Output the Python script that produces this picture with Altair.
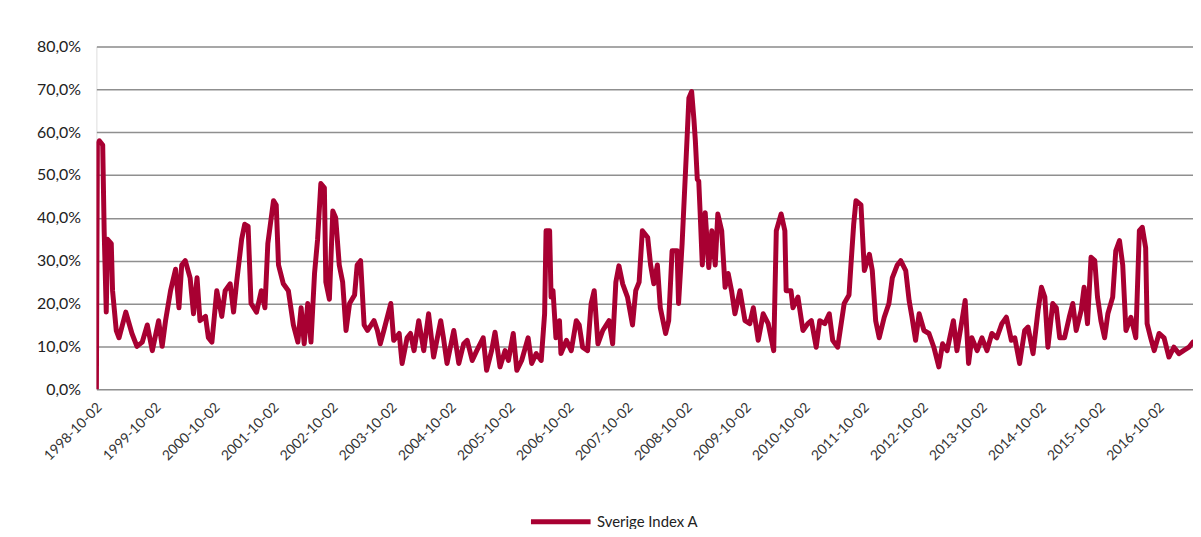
import altair as alt
import pandas as pd

series_name = "Sverige Index A"

dates = [
    "1998-10-02", "1998-10-08", "1998-10-20", "1998-11-10", "1998-11-19", "1998-12-02", "1998-12-10",
    "1999-01-02", "1999-01-10", "1999-02-02", "1999-02-19", "1999-04-02", "1999-05-10", "1999-06-10",
    "1999-07-13", "1999-08-13", "1999-09-13", "1999-10-22", "1999-11-13", "1999-12-04",
    "2000-01-04", "2000-02-04", "2000-02-25", "2000-03-13", "2000-04-04", "2000-05-04", "2000-05-25",
    "2000-06-16", "2000-07-04", "2000-08-07", "2000-08-25", "2000-09-16", "2000-10-16", "2000-11-16",
    "2000-12-07", "2001-01-07", "2001-01-28", "2001-02-16", "2001-03-19", "2001-04-07", "2001-04-28",
    "2001-05-07", "2001-05-16", "2001-06-19", "2001-07-19", "2001-08-10", "2001-08-28", "2001-10-02",
    "2001-10-19", "2001-11-02", "2001-12-02", "2002-01-02", "2002-02-02", "2002-03-02", "2002-03-22",
    "2002-04-10", "2002-05-02", "2002-05-22", "2002-06-13", "2002-07-02", "2002-07-22", "2002-08-13",
    "2002-08-22", "2002-09-13", "2002-10-04", "2002-10-22", "2002-11-13", "2002-12-04", "2002-12-25",
    "2003-01-16", "2003-02-16", "2003-03-04", "2003-03-25", "2003-04-16", "2003-05-07", "2003-06-16",
    "2003-07-07", "2003-07-25", "2003-08-16", "2003-09-28", "2003-10-16", "2003-11-19", "2003-12-07",
    "2004-01-07", "2004-01-28", "2004-02-19", "2004-03-19", "2004-04-19", "2004-05-19", "2004-06-19",
    "2004-08-02", "2004-08-19", "2004-09-10", "2004-10-22", "2004-11-22", "2004-12-22",
    "2005-01-13", "2005-02-13", "2005-03-13", "2005-04-22", "2005-05-13", "2005-06-13", "2005-07-04",
    "2005-08-04", "2005-09-04", "2005-09-25", "2005-10-25", "2005-11-16", "2005-12-16",
    "2006-01-25", "2006-02-16", "2006-03-16", "2006-04-16", "2006-05-07", "2006-05-16", "2006-06-07",
    "2006-06-16", "2006-06-28", "2006-07-16", "2006-08-07", "2006-08-16", "2006-09-19", "2006-10-19",
    "2006-11-19", "2006-12-07", "2006-12-28", "2007-01-28", "2007-02-19", "2007-03-10", "2007-04-02",
    "2007-05-02", "2007-06-10", "2007-07-02", "2007-07-22", "2007-08-10", "2007-09-02", "2007-10-02",
    "2007-11-02", "2007-11-22", "2007-12-13", "2008-01-02", "2008-02-04", "2008-02-22", "2008-03-13",
    "2008-04-04", "2008-04-22", "2008-05-25", "2008-06-13", "2008-07-04", "2008-08-04", "2008-08-13",
    "2008-09-04", "2008-10-04", "2008-10-16", "2008-11-02", "2008-11-16", "2008-11-25", "2008-12-07",
    "2008-12-16", "2008-12-25", "2009-01-07", "2009-01-25", "2009-02-16", "2009-03-07", "2009-03-28",
    "2009-04-13", "2009-05-07", "2009-05-28", "2009-06-16", "2009-07-07", "2009-07-28", "2009-08-28",
    "2009-09-28", "2009-10-28", "2009-11-19", "2009-12-19", "2010-01-19", "2010-02-19", "2010-03-25",
    "2010-04-10", "2010-05-10", "2010-06-02", "2010-06-10", "2010-07-10", "2010-07-22", "2010-08-22",
    "2010-09-22", "2010-10-22", "2010-11-13", "2010-12-13", "2011-01-04", "2011-02-04", "2011-03-04",
    "2011-03-25", "2011-04-25", "2011-06-04", "2011-07-04", "2011-07-16", "2011-08-02", "2011-08-16",
    "2011-09-16", "2011-10-07", "2011-11-07", "2011-11-25", "2011-12-16", "2012-01-07", "2012-02-07",
    "2012-03-07", "2012-03-28", "2012-04-28", "2012-05-19", "2012-06-19", "2012-07-10", "2012-07-28",
    "2012-08-19", "2012-09-10", "2012-10-10", "2012-11-10", "2012-12-10", "2013-01-10", "2013-02-02",
    "2013-03-02", "2013-04-10", "2013-05-02", "2013-06-02", "2013-06-22", "2013-07-13", "2013-08-02",
    "2013-09-04", "2013-10-04", "2013-11-04", "2013-12-04", "2014-01-04", "2014-02-04", "2014-03-04",
    "2014-04-04", "2014-04-25", "2014-05-25", "2014-06-25", "2014-07-16", "2014-08-16", "2014-09-16",
    "2014-10-07", "2014-10-28", "2014-11-16", "2014-12-16", "2015-01-07", "2015-01-28", "2015-02-27",
    "2015-03-28", "2015-04-19", "2015-05-10", "2015-06-10", "2015-06-28", "2015-07-19", "2015-08-10",
    "2015-09-02", "2015-09-19", "2015-10-10", "2015-11-02", "2015-11-22", "2015-12-22", "2016-01-10",
    "2016-02-02", "2016-02-22", "2016-03-13", "2016-04-13", "2016-05-13", "2016-06-04", "2016-06-22",
    "2016-07-13", "2016-07-22", "2016-08-13", "2016-09-04", "2016-10-04", "2016-11-04", "2016-12-04",
    "2017-01-04", "2017-02-04", "2017-03-04", "2017-04-07", "2017-05-02",
]

values = [
    0, 57, 58, 57, 37, 18, 35,
    34, 23, 13.7, 12, 18, 13, 10,
    11, 15, 9, 16, 10, 16,
    23, 28, 19, 29, 30, 26, 17.6,
    26, 16, 17, 12, 11, 23, 17,
    23, 24.6, 18, 25, 35, 38.5, 38,
    29, 20, 18, 23, 19, 34, 44,
    43, 29, 24.6, 23, 15, 11, 19,
    10.6, 20, 11, 27, 35, 48, 47,
    25, 21, 41.6, 40, 29, 25, 13.7,
    20, 22, 29, 30, 15, 13.7, 16,
    13.7, 10.6, 13.7, 20, 11.4, 13, 6,
    12, 13, 9, 16, 9, 17.6, 7.5,
    16, 12, 6, 13.7, 6, 10.6,
    11.4, 6.7, 9, 12, 4.4, 9, 13.3,
    5.2, 9, 6.7, 13, 4.4, 6.7,
    12, 6, 8.3, 6.7, 17.6, 37, 37,
    21.5, 23, 12, 16, 8.3, 11.4, 9,
    16, 15, 9.8, 9, 20, 23, 10.6,
    13.7, 16, 10.6, 25, 28.8, 24.6, 21.5,
    15, 23, 25, 37, 35.4, 29, 24.6,
    29, 19, 13, 16, 32.3, 32.3, 20,
    33.9, 58, 68, 69.5, 63, 58, 49,
    48.6, 40.9, 29, 41.2, 28.4, 37, 29,
    40.9, 37, 23.8, 27, 23, 17.6, 23,
    16, 15.3, 19, 11.4, 17.6, 15.3, 9,
    37, 40.9, 37, 23, 23, 19, 21.5,
    13.7, 15.3, 16, 9.8, 16, 15.3, 17.6,
    11.4, 9.8, 20, 22, 29, 38.5, 44,
    43, 27.7, 31.5, 27.7, 16, 12, 16.8,
    20, 26, 29, 30, 27.7, 20.7, 16.8,
    11.4, 17.6, 13.7, 13, 9.8, 5.2, 10.6,
    9, 16, 9, 16, 20.7, 6, 12,
    9, 12, 9, 13, 12, 15.3, 16.8,
    11.4, 12, 6, 13.7, 14.5, 8.3, 18.4,
    23.8, 21.5, 9.8, 20, 19, 12, 12,
    16.8, 20, 13.7, 18.4, 23.8, 15.3, 30.8,
    30, 21.5, 16, 12, 17.6, 21.5, 32.3,
    34.7, 29, 13.7, 16.8, 12, 37, 37.8,
    33, 15.3, 12, 9, 13, 12, 7.5,
    9.8, 8.3, 9, 9.8, 11,
]

y_ticks = [0, 10, 20, 30, 40, 50, 60, 70, 80]
x_tick_years = list(range(1998, 2017))

df = pd.DataFrame({"date": dates, "value": values, "series": series_name})

FONT = "Lato"
RED = "#A80032"

chart = (
    alt.Chart(df)
    .mark_line(strokeWidth=5, strokeJoin="round", strokeCap="round", clip=True)
    .encode(
        x=alt.X(
            "date:T",
            scale=alt.Scale(type="utc", domain=[
                alt.DateTime(year=1998, month=10, date=2, utc=True),
                alt.DateTime(year=2017, month=5, date=2, utc=True),
            ]),
            axis=alt.Axis(
                title=None,
                values=[alt.DateTime(year=y, month=10, date=2, utc=True) for y in x_tick_years],
                labelExpr="utcFormat(datum.value, '%Y-%m-%d')",
                labelAngle=315,
                labelAlign="right",
                labelBaseline="middle",
                labelPadding=16,
                labelOffset=3,
                labelFont=FONT,
                labelFontSize=14,
                labelColor="#333333",
                labelOverlap=False,
                ticks=False,
                domain=False,
                grid=False,
            ),
        ),
        y=alt.Y(
            "value:Q",
            scale=alt.Scale(domain=[0, 80], nice=False),
            axis=alt.Axis(
                title=None,
                values=y_ticks,
                labelExpr="replace(format(datum.value / 100, '.1%'), '.', ',')",
                labelFont=FONT,
                labelFontSize=16,
                labelColor="#222222",
                labelPadding=16,
                ticks=False,
                domain=False,
                grid=True,
                gridColor="#8f8f8f",
                gridWidth=1.5,
            ),
        ),
        color=alt.Color(
            "series:N",
            scale=alt.Scale(range=[RED]),
            legend=alt.Legend(
                title=None,
                orient="none",
                legendX=435,
                legendY=446,
                symbolType="stroke",
                symbolSize=3600,
                symbolStrokeWidth=5,
                labelFont=FONT,
                labelFontSize=15,
                labelColor="#222222",
                padding=0,
            ),
        ),
    )
    .properties(
        width=1104,
        height=345,
        autosize=alt.AutoSizeParams(type="none"),
        padding={"left": 89, "top": 37, "right": 0, "bottom": 139},
    )
    .configure_view(stroke="transparent", strokeWidth=0)
    .configure_axis(domain=False)
    .configure(background="white")
)

chart.save("out.html", embed_options={"renderer": "svg", "actions": False})
